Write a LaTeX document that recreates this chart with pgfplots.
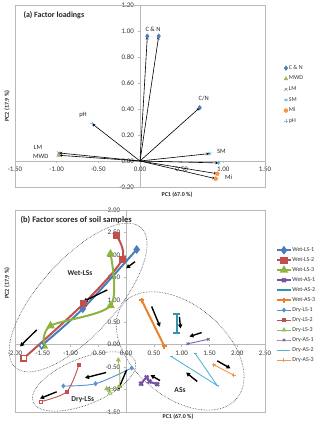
\documentclass[border=0pt]{standalone}
\usepackage{fontspec}
\setmainfont{Carlito}
\usepackage{pgfplots}
\pgfplotsset{compat=1.18}
\usetikzlibrary{arrows.meta,shapes.geometric}

% Excel 2010 palette
\definecolor{xblue}{HTML}{4A7EBB}
\definecolor{xred}{HTML}{C0504D}
\definecolor{xgreen}{HTML}{8DB43F}
\definecolor{xpurple}{HTML}{7553A0}
\definecolor{xteal}{HTML}{3494B0}
\definecolor{xorange}{HTML}{E8822E}
\definecolor{lblue}{HTML}{5A8FD0}
\definecolor{lgreen}{HTML}{9BBB59}
\definecolor{lpurple}{HTML}{8064A2}
\definecolor{lcyan}{HTML}{56B4DB}
\definecolor{lorange}{HTML}{F79646}
\definecolor{phblue}{HTML}{8EB4E3}
\definecolor{ateal}{HTML}{4BACC6}

\pgfplotsset{
  excel/.style={
    scale only axis, width=250bp,
    axis lines=middle, clip=false,
    axis line style={draw=gray!55, line width=0.5bp, -},
    tick style={draw=gray!55, line width=0.5bp},
    tick align=outside, major tick length=2.5bp,
    tick label style={font=\fontsize{7}{8}\selectfont, text=black!80},
    /pgf/number format/fixed,
    /pgf/number format/fixed zerofill,
    /pgf/number format/precision=2,
    /pgf/number format/assume math mode=true,
    hide obscured x ticks=false, hide obscured y ticks=false,
    legend cell align=left,
  },
  vec/.style={black, line width=0.6bp, -{Stealth[length=3.5bp,width=2.6bp]}, forget plot},
  tr/.style={black, line width=1.4bp, -{Triangle[length=4bp,width=4.2bp]}, forget plot},
  wet/.style={line width=2bp, smooth, mark options={solid}},
  dry/.style={line width=0.9bp, smooth, mark options={solid}},
}

\begin{document}
\begin{tikzpicture}[x=1bp,y=1bp]
\useasboundingbox (0,0) rectangle (320,424);

% ---------------- (a) factor loadings ----------------
\begin{axis}[excel,
  at={(15bp,237bp)}, anchor=south west, height=182bp,
  xmin=-1.5, xmax=1.5, ymin=-0.2, ymax=1.2,
  xtick={-1.5,-1,-0.5,0,0.5,1,1.5},
  ytick={-0.2,0,0.2,0.4,0.6,0.8,1.0,1.2},
  xlabel={PC1 (67.0 \%)}, ylabel={PC2 (17.9 \%)},
  every axis x label/.style={at={(axis description cs:0.648,-0.044)}, anchor=center,
    font=\bfseries\fontsize{6}{7}\selectfont, text=black!85},
  every axis y label/.style={at={(axis description cs:-0.032,0.445)}, anchor=center, rotate=90,
    font=\bfseries\fontsize{6}{7}\selectfont, text=black!85},
  legend style={draw=none, fill=none, at={(1.075,0.675)}, anchor=north west,
    font=\fontsize{6}{7}\selectfont, row sep=3.2bp, inner sep=0pt,
    nodes={inner sep=1bp, text=black!80}},
]
\draw[gray!55, line width=0.5bp] (rel axis cs:0,0) rectangle (rel axis cs:1,1);

\addplot[vec] coordinates {(0,0) (0.088,0.96)};
\addplot[vec] coordinates {(0,0) (0.224,0.96)};
\addplot[vec] coordinates {(0,0) (0.716,0.41)};
\addplot[vec] coordinates {(0,0) (0.836,0.057)};
\addplot[vec] coordinates {(0,0) (0.944,-0.015)};
\addplot[vec] coordinates {(0,0) (0.928,-0.098)};
\addplot[vec] coordinates {(0,0) (0.908,-0.136)};
\addplot[vec] coordinates {(0,0) (-0.976,0.062)};
\addplot[vec] coordinates {(0,0) (-0.976,0.044)};
\addplot[vec] coordinates {(0,0) (-0.576,0.288)};

\addplot[only marks, mark=diamond*, mark size=2.4bp, color=xblue] coordinates {(0.088,0.96) (0.224,0.96) (0.716,0.41)};
\addplot[only marks, mark=triangle*, mark size=2.2bp, color=lgreen] coordinates {(-0.976,0.044)};
\addplot[only marks, mark=x, mark size=2bp, color=lpurple] coordinates {(-0.976,0.062)};
\addplot[only marks, mark=asterisk, mark size=2bp, color=ateal] coordinates {(0.836,0.057) (0.944,-0.015)};
\addplot[only marks, mark=*, mark size=2bp, color=lorange] coordinates {(0.928,-0.098) (0.908,-0.136)};
\addplot[only marks, mark=+, mark size=2bp, color=phblue] coordinates {(-0.576,0.288)};
\legend{C \& N, MWD, LM, SM, Mi, pH}

\begin{scope}[every node/.style={font=\fontsize{6.5}{7}\selectfont, text=black!85}]
\node at (axis cs:0.156,1.01) {C \& N};
\node at (axis cs:0.764,0.48) {C/N};
\node at (axis cs:0.976,0.077) {SM};
\node at (axis cs:1.064,-0.123) {Mi};
\node at (axis cs:-1.224,0.108) {LM};
\node at (axis cs:-1.19,0.036) {MWD};
\node at (axis cs:-0.684,0.352) {pH};
\end{scope}
\node[anchor=west, font=\bfseries\fontsize{8}{9}\selectfont, text=black!85] at (axis description cs:0.02,0.945) {(a) Factor loadings};
\end{axis}

% ---------------- (b) factor scores ----------------
\begin{axis}[excel,
  at={(15bp,12bp)}, anchor=south west, height=202bp,
  xmin=-2, xmax=2.5, ymin=-1.5, ymax=3,
  xtick={-2,-1.5,...,2.5},
  ytick={-1.5,-1,...,3},
  xlabel={PC1 (67.0 \%)}, ylabel={PC2 (17.9 \%)},
  every axis x label/.style={at={(axis description cs:0.652,-0.022)}, anchor=center,
    font=\bfseries\fontsize{6}{7}\selectfont, text=black!85},
  every axis y label/.style={at={(axis description cs:-0.032,0.639)}, anchor=center, rotate=90,
    font=\bfseries\fontsize{6}{7}\selectfont, text=black!85},
  legend style={draw=none, fill=none, at={(1.045,0.82)}, anchor=north west,
    font=\fontsize{6}{7}\selectfont, row sep=2.6bp, inner sep=0pt,
    nodes={inner sep=1bp, text=black!80}},
  legend image code/.code={\draw[mark repeat=2, mark phase=2] plot coordinates {(0bp,0bp) (6.5bp,0bp) (13bp,0bp)};},
]
\draw[gray!55, line width=0.5bp] (rel axis cs:0,0) rectangle (rel axis cs:1,1);

\node[draw=black!75, densely dotted, line width=0.6bp, ellipse, inner sep=0pt,
  minimum width=188bp, minimum height=76bp, rotate=48] at (axis cs:-0.864,1.05) {};
\node[draw=black!75, densely dotted, line width=0.6bp, ellipse, inner sep=0pt,
  minimum width=110bp, minimum height=46bp, rotate=22] at (axis cs:-0.756,-0.82) {};
\node[draw=black!75, densely dotted, line width=0.6bp, ellipse, inner sep=0pt,
  minimum width=148bp, minimum height=92bp, rotate=-40] at (axis cs:0.972,-0.14) {};

\addplot[wet, color=xblue, mark=diamond*, mark size=2.8bp] coordinates {(0.19,2.12) (-0.78,0.80) (-1.52,-0.02)};
\addplot[wet, color=xred, mark=square*, mark size=2.6bp] coordinates {(-0.18,2.44) (-0.07,1.90) (-0.76,0.92) (-1.84,-0.30)};
\addplot[wet, color=xgreen, mark=triangle*, mark size=3bp] coordinates {(-0.28,2.02) (-0.28,0.87) (-1.36,0.42) (-1.48,-0.03)};
\addplot[wet, color=xpurple, mark=x, mark size=2.6bp] coordinates {(0.27,-0.87) (0.37,-0.73) (0.42,-0.82) (0.56,-0.88)};
\addplot[wet, color=xteal, mark=-, mark size=3.2bp] coordinates {(0.91,0.68) (0.91,0.27)};
\addplot[wet, color=xorange, mark=+, mark size=2.6bp] coordinates {(0.28,0.99) (0.69,-0.04)};
\addplot[dry, color=lblue, mark=diamond*, mark size=1.9bp] coordinates {(0.10,-0.52) (-0.55,-0.87) (-1.13,-0.92)};
\addplot[dry, color=xred, mark=square*, mark size=1.6bp] coordinates {(-0.85,-0.45) (-1.07,-1.05) (-1.54,-1.27)};
\addplot[dry, color=lgreen, mark=triangle*, mark size=2bp] coordinates {(-0.14,-0.34) (-0.12,-0.93) (-0.35,-0.98) (-0.29,-1.08)};
\addplot[dry, color=lpurple, mark=x, mark size=1.8bp] coordinates {(1.11,0.02) (1.48,0.12)};
\addplot[line width=0.9bp, color=lcyan, mark=-, mark size=1.5bp] coordinates {(0.82,-0.27) (1.64,-0.91) (1.24,-0.19)};
\addplot[dry, color=lorange, mark=+, mark size=1.8bp] coordinates {(1.58,-0.45) (1.94,-0.68)};
\legend{Wet-LS-1, Wet-LS-2, Wet-LS-3, Wet-AS-1, Wet-AS-2, Wet-AS-3,
        Dry-LS-1, Dry-LS-2, Dry-LS-3, Dry-AS-1, Dry-AS-2, Dry-AS-3}

% open end markers
\addplot[only marks, forget plot, mark=diamond*, mark size=2.8bp, mark options={fill=white, draw=xblue, line width=1bp}] coordinates {(-1.52,-0.02)};
\addplot[only marks, forget plot, mark=square*, mark size=2.6bp, mark options={fill=white, draw=xred, line width=1bp}] coordinates {(-1.84,-0.30)};
\addplot[only marks, forget plot, mark=square*, mark size=1.6bp, mark options={fill=white, draw=xred, line width=0.7bp}] coordinates {(-1.54,-1.27)};
\addplot[only marks, forget plot, mark=triangle*, mark size=2bp, mark options={fill=white, draw=lgreen, line width=0.7bp}] coordinates {(-0.29,-1.08)};

% direction arrows
\addplot[tr] coordinates {(0.16,1.85) (0.0,1.70)};
\addplot[tr] coordinates {(-0.34,1.22) (-0.77,0.96)};
\addplot[tr] coordinates {(-1.61,0.33) (-1.91,-0.04)};
\addplot[tr] coordinates {(-0.36,-0.62) (-0.74,-0.74)};
\addplot[tr] coordinates {(-1.25,-1.05) (-1.55,-1.20)};
\addplot[tr] coordinates {(0.01,-0.56) (-0.14,-1.00)};
\addplot[tr] coordinates {(0.46,0.85) (0.61,0.40)};
\addplot[tr] coordinates {(0.96,0.62) (0.98,0.36)};
\addplot[tr] coordinates {(1.36,0.27) (1.14,0.18)};
\addplot[tr] coordinates {(1.64,-0.36) (1.88,-0.53)};
\addplot[tr] coordinates {(1.28,-0.82) (1.08,-0.62)};
\addplot[tr] coordinates {(0.61,-0.80) (0.44,-0.68)};

\begin{scope}[every node/.style={font=\bfseries\fontsize{7.5}{8}\selectfont, text=black!85}]
\node at (axis cs:-0.83,1.59) {Wet-LSs};
\node at (axis cs:-0.78,-1.22) {Dry-LSs};
\node at (axis cs:0.97,-1.01) {ASs};
\end{scope}
\node[anchor=west, font=\bfseries\fontsize{8.5}{9}\selectfont, text=black!85] at (axis description cs:0.008,0.95) {(b) Factor scores of soil samples};
\end{axis}
\end{tikzpicture}
\end{document}
